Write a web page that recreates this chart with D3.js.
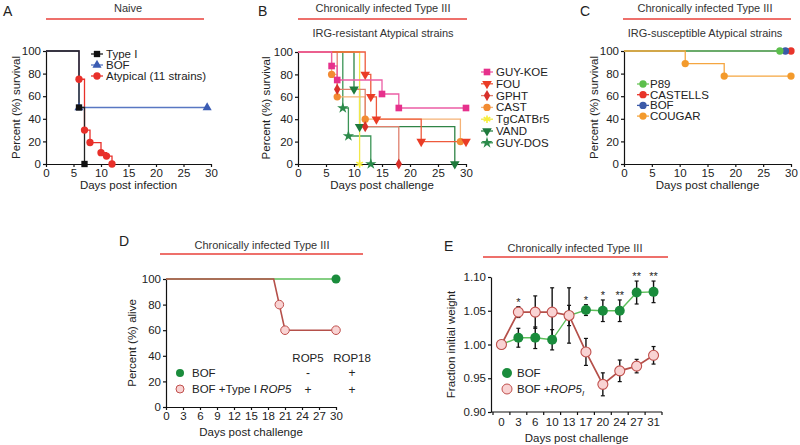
<!DOCTYPE html>
<html><head><meta charset="utf-8">
<script src="https://cdn.jsdelivr.net/npm/d3@7"></script>
<style>
body{margin:0;background:#fff;}
svg{display:block;font-family:"Liberation Sans",Arial,Helvetica,sans-serif;}
</style></head><body>
<svg id="c" width="800" height="445"></svg>
<script>
// ================= DATA =================
// Shared survival axes
const survTicksX = [0,5,10,15,20,25,30];
const survTicksY = [0,20,40,60,80,100];

// Panel A (Naive)
const aNames = ["Type I","BOF","Atypical (11 strains)"];
const aTypeIDays = [0,6,7],               aTypeISurv = [100,50,0];
const aBofDays   = [0,6,29.3],            aBofSurv   = [100,50,50];
const aAtypDays  = [0,6,7,8,10,11,12],    aAtypSurv  = [100,75,30,19,10,7,0];

// Panel B (IRG-resistant)
const bNames = ["GUY-KOE","FOU","GPHT","CAST","TgCATBr5","VAND","GUY-DOS"];
const bGuyKoeDays = [0,6,7,15,18,30],  bGuyKoeSurv = [100,87.5,75,62.5,50,50];
const bFouDays    = [0,12,13,14,22,30], bFouSurv   = [100,80,60,40,20,20];
const bGphtDays   = [0,7,12,18],        bGphtSurv  = [100,66.7,33.3,0];
const bCastDays   = [0,6,7,12,29],      bCastSurv  = [100,80,60,40,20];
const bTgcDays    = [0,11],             bTgcSurv   = [100,0];
const bVandDays   = [0,10,11,28],       bVandSurv  = [100,66.7,33.3,0];
const bGuyDosDays = [0,8,9,13],         bGuyDosSurv= [100,50,25,0];

// Panel C (IRG-susceptible)
const cNames = ["P89","CASTELLS","BOF","COUGAR"];
const cP89Days = [0,28],        cP89Surv = [100,100];
const cCastellsDays = [0,30],   cCastellsSurv = [100,100];
const cBofDays = [0,29],        cBofSurv = [100,100];
const cCougarDays = [0,11,18,30], cCougarSurv = [100,88.9,77.8,77.8];

// Panel D
const dTicksX = [0,3,6,9,12,15,18,21,24,27,30];
const dNames = ["BOF","BOF +Type I "];
const dBofDays = [0,30],             dBofAlive = [100,100];
const dBofMarkDays = [30];
const dRopDays = [0,19,20,21,30],    dRopAlive = [100,100,80,60,60];
const dRopMarkDays = [20,21,30];
const dColHeads = ["ROP5","ROP18"];
const dBofSigns = ["-","+"];
const dRopSigns = ["+","+"];

// Panel E
const eDays   = ["0","3","6","10","13","17","20","24","27","31"];
const eBof    = [1.000,1.010,1.010,1.007,1.043,1.051,1.050,1.050,1.077,1.078];
const eBofErr = [0,0.014,0.016,0.015,0.015,0.008,0.016,0.016,0.017,0.016];
const eRop    = [1.000,1.048,1.048,1.048,1.043,0.989,0.941,0.961,0.968,0.984];
const eRopErr = [0,0.008,0.024,0.036,0.041,0.020,0.017,0.016,0.010,0.013];
const eSig    = ["","*","","","","*","*","**","**","**"];
const eTicksY = [0.90,0.95,1.00,1.05,1.10];

// ================= DRAWING =================
const svg = d3.select("#c");
const TXT = "#222";
const RED = "#e8413a";

function zip(days, vals){ return days.map((d,i)=>({x:d,y:vals[i]})); }

function sym(type, size){ return d3.symbol().type(type).size(size)(); }

function drawMarker(g, type, x, y, fill, stroke, size, rot){
  const p = g.append("path").attr("d", sym(type,size))
    .attr("transform", `translate(${x},${y})` + (rot?` rotate(${rot})`:""));
  if (type === d3.symbolAsterisk) p.attr("fill","none").attr("stroke",fill).attr("stroke-width",1.6);
  else p.attr("fill",fill).attr("stroke",stroke||"none").attr("stroke-width",1);
  return p;
}

function header(letter, lx, ly, title, tx, ty, lineX0, lineX1, lineY, sub, sy){
  svg.append("text").attr("x",lx).attr("y",ly).attr("font-size",14).attr("fill",TXT).text(letter);
  svg.append("text").attr("x",tx).attr("y",ty).attr("text-anchor","middle").attr("font-size",11).attr("fill","#333").text(title);
  svg.append("line").attr("x1",lineX0).attr("x2",lineX1).attr("y1",lineY).attr("y2",lineY).attr("stroke",RED).attr("stroke-width",1.5);
  if (sub) svg.append("text").attr("x",tx).attr("y",sy).attr("text-anchor","middle").attr("font-size",11).attr("fill","#333").text(sub);
}

function styleAxis(g){
  g.selectAll(".domain").attr("stroke","#111").attr("stroke-width",1.2);
  g.selectAll(".tick line").attr("stroke","#111").attr("stroke-width",1.2);
  g.selectAll(".tick text").attr("fill",TXT).attr("font-size",11.5).attr("font-family","Liberation Sans, Arial, sans-serif");
}

function survAxes(f, xTicks, xTitle, yTitle, yTitleX){
  const x = d3.scaleLinear().domain([0,30]).range([f.x0,f.x1]);
  const y = d3.scaleLinear().domain([0,100]).range([f.y1,f.y0]);
  const gx = svg.append("g").attr("transform",`translate(0,${f.y1})`)
    .call(d3.axisBottom(x).tickValues(xTicks).tickSize(3).tickSizeOuter(0).tickPadding(2));
  styleAxis(gx);
  const gy = svg.append("g").attr("transform",`translate(${f.x0},0)`)
    .call(d3.axisLeft(y).tickValues(survTicksY).tickSize(3).tickSizeOuter(0).tickPadding(2));
  styleAxis(gy);
  svg.append("text").attr("x",(f.x0+f.x1)/2).attr("y",f.y1+25).attr("text-anchor","middle")
    .attr("font-size",11.5).attr("fill",TXT).text(xTitle);
  svg.append("text").attr("transform",`translate(${yTitleX},${(f.y0+f.y1)/2}) rotate(-90)`)
    .attr("text-anchor","middle").attr("font-size",11.5).attr("fill",TXT).text(yTitle);
  return {x,y};
}

function drawSteps(sc, series){
  const line = d3.line().x(d=>sc.x(d.x)).y(d=>sc.y(d.y)).curve(d3.curveStepAfter);
  series.forEach(s=>{
    svg.append("path").attr("d",line(s.pts)).attr("fill","none").attr("stroke",s.line).attr("stroke-width",1.3);
  });
  series.forEach(s=>{
    const g = svg.append("g");
    s.pts.slice(1).forEach(p=>drawMarker(g,s.type,sc.x(p.x),sc.y(p.y),s.color,null,s.size,s.rot));
  });
}

function legend(series, mx, tx, y0, dy){
  series.forEach((s,i)=>{
    const y = y0 + i*dy;
    svg.append("line").attr("x1",mx-6).attr("x2",mx+6).attr("y1",y).attr("y2",y).attr("stroke",s.line).attr("stroke-width",1.3);
    drawMarker(svg.append("g"),s.type,mx,y,s.color,null,s.size,s.rot);
    svg.append("text").attr("x",tx).attr("y",y+4).attr("font-size",11.5).attr("fill",TXT).text(s.name);
  });
}

// ----- Panel A -----
header("A",3,16,"Naive",128,12,46,204,19);
const fA = {x0:46,x1:211,y0:51,y1:164};
const scA = survAxes(fA, survTicksX, "Days post infection", "Percent (%) survival", 20);
const sA = [
  {name:aNames[0], pts:zip(aTypeIDays,aTypeISurv), color:"#111", line:"#222", type:d3.symbolSquare, size:40},
  {name:aNames[1], pts:zip(aBofDays,aBofSurv),     color:"#3b5cb3", line:"#5877c2", type:d3.symbolTriangle, size:36},
  {name:aNames[2], pts:zip(aAtypDays,aAtypSurv),   color:"#e8302a", line:"#e8302a", type:d3.symbolCircle, size:42}
];
drawSteps(scA, [sA[2],sA[1],sA[0]]);
legend(sA, 97, 106, 54, 11);

// ----- Panel B -----
header("B",258,16,"Chronically infected Type III",383,12,298,467,19,"IRG-resistant Atypical strains",37);
const fB = {x0:298,x1:466,y0:52,y1:164};
const scB = survAxes(fB, survTicksX, "Days post challenge", "Percent (%) survival", 270);
const sB = [
  {name:bNames[0], pts:zip(bGuyKoeDays,bGuyKoeSurv), color:"#e6318c", line:"#ec5ea5", type:d3.symbolSquare, size:44},
  {name:bNames[1], pts:zip(bFouDays,bFouSurv),       color:"#ea3c26", line:"#ee5a3c", type:d3.symbolTriangle, size:40, rot:180},
  {name:bNames[2], pts:zip(bGphtDays,bGphtSurv),     color:"#d8302a", line:"#e0806e", type:d3.symbolDiamond, size:36},
  {name:bNames[3], pts:zip(bCastDays,bCastSurv),     color:"#f28b32", line:"#f5b276", type:d3.symbolCircle, size:42},
  {name:bNames[4], pts:zip(bTgcDays,bTgcSurv),       color:"#f7ef3a", line:"#f2e84a", type:d3.symbolAsterisk, size:40},
  {name:bNames[5], pts:zip(bVandDays,bVandSurv),     color:"#1e7a3c", line:"#2f8446", type:d3.symbolTriangle, size:40, rot:180},
  {name:bNames[6], pts:zip(bGuyDosDays,bGuyDosSurv), color:"#2b8a4a", line:"#3b9456", type:d3.symbolStar, size:40}
];
drawSteps(scB, [sB[6],sB[5],sB[4],sB[3],sB[2],sB[1],sB[0]]);
legend(sB, 487, 496, 72, 11.8);

// ----- Panel C -----
header("C",580,16,"Chronically infected Type III",705,12,623,791,19,"IRG-susceptible Atypical strains",37);
const fC = {x0:624,x1:791,y0:51,y1:164};
const scC = survAxes(fC, survTicksX, "Days post challenge", "Percent (%) survival", 598);
const sC = [
  {name:cNames[0], pts:zip(cP89Days,cP89Surv),           color:"#5cbf4c", line:"#6cc65c", type:d3.symbolCircle, size:42},
  {name:cNames[1], pts:zip(cCastellsDays,cCastellsSurv), color:"#e8342a", line:"#e8342a", type:d3.symbolCircle, size:42},
  {name:cNames[2], pts:zip(cBofDays,cBofSurv),           color:"#3b5aa8", line:"#3b5aa8", type:d3.symbolCircle, size:42},
  {name:cNames[3], pts:zip(cCougarDays,cCougarSurv),     color:"#f39a2c", line:"#f5a640", type:d3.symbolCircle, size:42}
];
drawSteps(scC, [sC[1],sC[2],sC[0],sC[3]]);
legend(sC, 643, 650, 84, 10.7);

// ----- Panel D -----
header("D",119,246,"Chronically infected Type III",262,249,160,363,254);
const fD = {x0:166,x1:336,y0:279,y1:407};
const xD = d3.scaleLinear().domain([0,30]).range([fD.x0,fD.x1]);
const yD = d3.scaleLinear().domain([0,100]).range([fD.y1,fD.y0]);
styleAxis(svg.append("g").attr("transform",`translate(0,${fD.y1})`)
  .call(d3.axisBottom(xD).tickValues(dTicksX).tickSize(3).tickSizeOuter(0).tickPadding(2)));
styleAxis(svg.append("g").attr("transform",`translate(${fD.x0},0)`)
  .call(d3.axisLeft(yD).tickValues(survTicksY).tickSize(3).tickSizeOuter(0).tickPadding(2)));
svg.append("text").attr("x",(fD.x0+fD.x1)/2).attr("y",436).attr("text-anchor","middle").attr("font-size",11.5).attr("fill",TXT).text("Days post challenge");
svg.append("text").attr("transform",`translate(136,${(fD.y0+fD.y1)/2}) rotate(-90)`).attr("text-anchor","middle").attr("font-size",11.5).attr("fill",TXT).text("Percent (%) alive");
const lineD = d3.line().x(d=>xD(d.x)).y(d=>yD(d.y));
const GREEN = "#1a8c3c", GLINE = "#5cbf5a", PFILL = "#f9d3d3", PSTROKE = "#c0504d", PLINE = "#b5504a";
svg.append("path").attr("d",lineD(zip(dBofDays,dBofAlive))).attr("fill","none").attr("stroke",GLINE).attr("stroke-width",1.3);
svg.append("path").attr("d",lineD(zip(dRopDays,dRopAlive))).attr("fill","none").attr("stroke",PLINE).attr("stroke-width",1.6);
dBofMarkDays.forEach(d=>{
  const i = dBofDays.indexOf(d);
  svg.append("circle").attr("cx",xD(d)).attr("cy",yD(dBofAlive[i])).attr("r",4.5).attr("fill",GREEN);
});
dRopMarkDays.forEach(d=>{
  const i = dRopDays.indexOf(d);
  svg.append("circle").attr("cx",xD(d)).attr("cy",yD(dRopAlive[i])).attr("r",4.3).attr("fill",PFILL).attr("stroke",PSTROKE).attr("stroke-width",1);
});
// legend D
svg.append("circle").attr("cx",180).attr("cy",373).attr("r",4).attr("fill",GREEN);
svg.append("text").attr("x",192).attr("y",377).attr("font-size",11.5).attr("fill",TXT).text(dNames[0]);
svg.append("circle").attr("cx",180).attr("cy",389).attr("r",4).attr("fill",PFILL).attr("stroke",PSTROKE);
const tD = svg.append("text").attr("x",192).attr("y",393).attr("font-size",11.5).attr("fill",TXT);
tD.append("tspan").text(dNames[1]);
tD.append("tspan").attr("font-style","italic").text("ROP5");
const colX = [308,352];
dColHeads.forEach((h,i)=>svg.append("text").attr("x",colX[i]).attr("y",362).attr("text-anchor","middle").attr("font-size",11.5).attr("fill",TXT).text(h));
dBofSigns.forEach((s,i)=>svg.append("text").attr("x",colX[i]).attr("y",377).attr("text-anchor","middle").attr("font-size",12).attr("fill",TXT).text(s));
dRopSigns.forEach((s,i)=>svg.append("text").attr("x",colX[i]).attr("y",394).attr("text-anchor","middle").attr("font-size",12).attr("fill",TXT).text(s));

// ----- Panel E -----
header("E",444,251,"Chronically infected Type III",575,252,483,668,257);
const fE = {x0:491,x1:662,y0:277,y1:412};
const xE = d3.scaleBand().domain(eDays).range([fE.x0+2,fE.x1]);
const yE = d3.scaleLinear().domain([0.90,1.10]).range([fE.y1,fE.y0]);
const gxE = svg.append("g").attr("transform",`translate(0,${fE.y1})`)
  .call(d3.axisBottom(xE).tickSize(0).tickPadding(6));
styleAxis(gxE);
gxE.select(".domain").attr("d",`M${fE.x0},0H${fE.x1}`);
d3.range(eDays.length+1).forEach(i=>{
  const bx = fE.x0+2 + i*xE.step();
  gxE.append("line").attr("x1",bx).attr("x2",bx).attr("y1",0).attr("y2",3).attr("stroke","#111").attr("stroke-width",1.2);
});
styleAxis(svg.append("g").attr("transform",`translate(${fE.x0},0)`)
  .call(d3.axisLeft(yE).tickValues(eTicksY).tickFormat(d3.format(".2f")).tickSize(3).tickSizeOuter(0).tickPadding(2)));
svg.append("text").attr("x",(fE.x0+fE.x1)/2).attr("y",442).attr("text-anchor","middle").attr("font-size",11.5).attr("fill",TXT).text("Days post challenge");
svg.append("text").attr("transform",`translate(455,${(fE.y0+fE.y1)/2}) rotate(-90)`).attr("text-anchor","middle").attr("font-size",11.5).attr("fill",TXT).text("Fraction initial weight");
const cx = d => xE(d) + xE.bandwidth()/2;
// error bars
function errBars(vals, errs){
  vals.forEach((v,i)=>{
    if (!errs[i]) return;
    const x = cx(eDays[i]), t = yE(v+errs[i]), b = yE(v-errs[i]);
    svg.append("line").attr("x1",x).attr("x2",x).attr("y1",t).attr("y2",b).attr("stroke","#111").attr("stroke-width",1.4);
    [t,b].forEach(yy=>svg.append("line").attr("x1",x-2).attr("x2",x+2).attr("y1",yy).attr("y2",yy).attr("stroke","#111").attr("stroke-width",1.2));
  });
}
errBars(eRop, eRopErr);
errBars(eBof, eBofErr);
const lineE = d3.line().x((d,i)=>cx(eDays[i])).y(d=>yE(d));
svg.append("path").attr("d",lineE(eBof)).attr("fill","none").attr("stroke",GLINE).attr("stroke-width",1.4);
svg.append("path").attr("d",lineE(eRop)).attr("fill","none").attr("stroke",PLINE).attr("stroke-width",1.7);
eBof.forEach((v,i)=>svg.append("circle").attr("cx",cx(eDays[i])).attr("cy",yE(v)).attr("r",5).attr("fill",GREEN));
eRop.forEach((v,i)=>svg.append("circle").attr("cx",cx(eDays[i])).attr("cy",yE(v)).attr("r",5).attr("fill",PFILL).attr("stroke",PSTROKE).attr("stroke-width",1.1));
eSig.forEach((s,i)=>{
  if (!s) return;
  const top = Math.max(eBof[i]+eBofErr[i], eRop[i]+eRopErr[i]);
  svg.append("text").attr("x",cx(eDays[i])).attr("y",yE(top)-1).attr("text-anchor","middle").attr("font-size",11).attr("fill",TXT).text(s);
});
// legend E
svg.append("circle").attr("cx",507).attr("cy",373).attr("r",5).attr("fill",GREEN);
svg.append("text").attr("x",517).attr("y",377).attr("font-size",11.5).attr("fill",TXT).text("BOF");
svg.append("circle").attr("cx",507).attr("cy",389).attr("r",5).attr("fill",PFILL).attr("stroke",PSTROKE);
const tE = svg.append("text").attr("x",517).attr("y",393).attr("font-size",11.5).attr("fill",TXT);
tE.append("tspan").text("BOF +");
tE.append("tspan").attr("font-style","italic").text("ROP5");
tE.append("tspan").attr("font-style","italic").attr("font-size",8).attr("dy",3).text("I");
</script></body></html>
